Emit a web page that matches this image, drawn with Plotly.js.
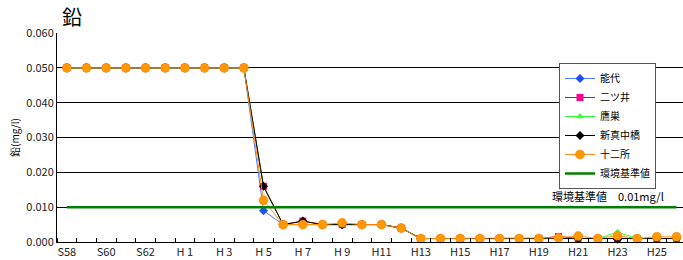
<!DOCTYPE html>
<html>
<head>
<meta charset="utf-8">
<script src="https://cdn.plot.ly/plotly-3.0.1.min.js"></script>
<style>html,body{margin:0;padding:0;background:#fff;overflow:hidden;}#chart{width:683px;height:260px;}</style>
</head>
<body>
<div id="chart"></div>
<script>
// Years (S58 .. H26)
const years = ["S58","S59","S60","S61","S62","S63","H 1","H 2","H 3","H 4","H 5","H 6","H 7","H 8","H 9","H10","H11","H12","H13","H14","H15","H16","H17","H18","H19","H20","H21","H22","H23","H24","H25","H26"];
const tickLabels = ["S58","S60","S62","H 1","H 3","H 5","H 7","H 9","H11","H13","H15","H17","H19","H21","H23","H25"];

const noshiro   = [0.050,0.050,0.050,0.050,0.050,0.050,0.050,0.050,0.050,0.050,0.009,0.005,0.005,0.005,0.005,0.005,0.005,0.004,0.001,0.001,0.001,0.001,0.001,0.001,0.001,0.001,0.001,0.001,0.001,0.001,0.001,0.001];
const futatsui  = [0.050,0.050,0.050,0.050,0.050,0.050,0.050,0.050,0.050,0.050,0.016,0.005,0.006,0.005,0.005,0.005,0.005,0.004,0.001,0.001,0.001,0.001,0.001,0.001,0.001,0.0016,0.001,0.001,0.001,0.001,0.001,0.001];
const takanosu  = [0.050,0.050,0.050,0.050,0.050,0.050,0.050,0.050,0.050,0.050,0.016,0.005,0.005,0.005,0.005,0.005,0.005,0.004,0.001,0.001,0.001,0.001,0.001,0.001,0.001,0.001,0.001,0.001,0.0028,0.001,0.001,0.001];
const shinmanaka= [0.050,0.050,0.050,0.050,0.050,0.050,0.050,0.050,0.050,0.050,0.016,0.005,0.006,0.005,0.005,0.005,0.005,0.004,0.001,0.001,0.001,0.001,0.001,0.001,0.001,0.001,0.001,0.001,0.0008,0.001,0.001,0.001];
const juunisho  = [0.050,0.050,0.050,0.050,0.050,0.050,0.050,0.050,0.050,0.050,0.012,0.005,0.005,0.005,0.0055,0.005,0.005,0.004,0.001,0.001,0.001,0.001,0.001,0.001,0.001,0.0012,0.0017,0.001,0.0018,0.001,0.0015,0.0015];
const standard  = [0.010,0.010,0.010,0.010,0.010,0.010,0.010,0.010,0.010,0.010,0.010,0.010,0.010,0.010,0.010,0.010,0.010,0.010,0.010,0.010,0.010,0.010,0.010,0.010,0.010,0.010,0.010,0.010,0.010,0.010,0.010,0.010];

const xIdx = years.map((_, i) => i);
const tickIdx = tickLabels.map(t => years.indexOf(t));

const FONT = '"Noto Sans CJK JP", "Noto Sans", sans-serif';

function series(name, y, lineColor, marker) {
  return {x: xIdx, y: y, name: name, type: 'scatter', mode: 'lines+markers',
          line: {color: lineColor, width: 1}, marker: marker, cliponaxis: false};
}

const traces = [
  series('能代', noshiro, '#4D7CFF', {symbol: 'diamond', size: 7, color: '#1F4FFF'}),
  series('二ツ井', futatsui, '#FF0000', {symbol: 'square', size: 7, color: '#FF0090'}),
  series('鷹巣', takanosu, '#33FF33', {symbol: 'triangle-up', size: 7, color: '#33FF33'}),
  series('新真中橋', shinmanaka, '#000000', {symbol: 'diamond', size: 7, color: '#000000'}),
  series('十二所', juunisho, '#FF8C1A', {symbol: 'circle', size: 9, color: '#FF9900', line: {color: '#FF7700', width: 0.5}}),
  {x: xIdx, y: standard, name: '環境基準値', type: 'scatter', mode: 'lines',
   line: {color: '#008000', width: 2.5}}
];

const layout = {
  width: 683, height: 260,
  margin: {l: 57, r: 0, t: 33, b: 18},
  paper_bgcolor: '#fff', plot_bgcolor: '#fff',
  font: {family: FONT, size: 10, color: '#222'},
  title: {text: '鉛', x: 62/683, xanchor: 'left', y: 1 - 18/260, yanchor: 'middle',
          font: {family: FONT, size: 20, color: '#000'}},
  showlegend: true,
  legend: {x: (559-57)/626, y: (242-63)/209, xanchor: 'left', yanchor: 'top',
           bgcolor: '#fff', bordercolor: '#555', borderwidth: 1,
           font: {family: FONT, size: 10, color: '#000'}, tracegroupgap: 0},
  xaxis: {
    range: [-0.5, 31.33], zeroline: false, showgrid: false,
    showline: true, linecolor: '#000', linewidth: 1,
    tickmode: 'array', tickvals: tickIdx, ticktext: tickLabels, ticks: '',
    tickfont: {family: FONT, size: 11, color: '#222'},
    minor: {tick0: 0.5, dtick: 1, ticks: 'inside', ticklen: 4, tickcolor: '#000', showgrid: false},
    fixedrange: true
  },
  yaxis: {
    range: [0, 0.060], dtick: 0.010, tick0: 0, tickformat: '.3f',
    showgrid: true, gridcolor: '#000', gridwidth: 1, zeroline: false,
    showline: true, linecolor: '#000', linewidth: 1, ticks: '',
    tickfont: {family: FONT, size: 11, color: '#222'},
    title: {text: '鉛(mg/l)', font: {family: FONT, size: 10, color: '#000'}, standoff: 4},
    fixedrange: true
  },
  annotations: [{
    text: '環境基準値　0.01mg/l', xref: 'paper', yref: 'y',
    x: (666-57)/626, y: 0.010, xanchor: 'right', yanchor: 'bottom', yshift: 1,
    showarrow: false, font: {family: FONT, size: 11, color: '#000'}
  }]
};

Plotly.newPlot('chart', traces, layout, {staticPlot: true, displayModeBar: false});
</script>
</body>
</html>
